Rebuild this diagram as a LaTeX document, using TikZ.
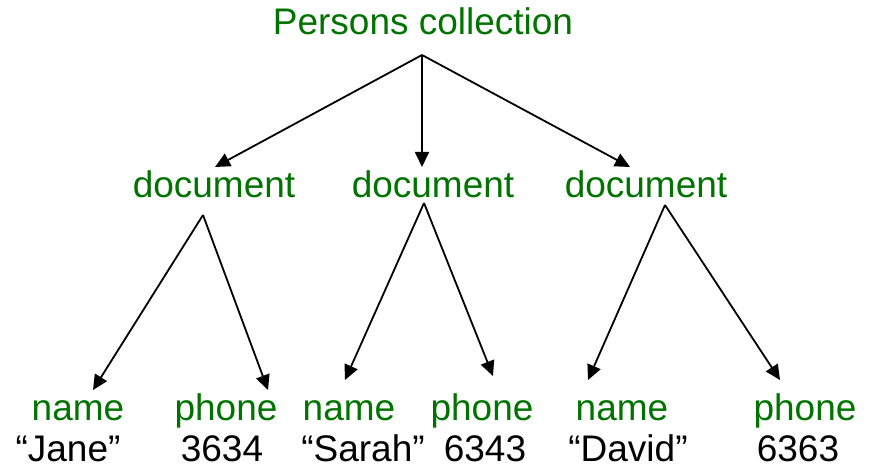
\documentclass[tikz,border=0pt]{standalone}
\usepackage{fontspec}
\setmainfont{Liberation Sans}
\usetikzlibrary{arrows.meta}
\definecolor{docgreen}{RGB}{0,115,0}
\begin{document}
\begin{tikzpicture}[x=1pt,y=-1pt,
  lbl/.style={anchor=base,inner sep=0pt,font=\fontsize{37}{44}\selectfont},
  key/.style={lbl,text=docgreen},
  val/.style={lbl,text=black},
  link/.style={line width=1.8pt,-{Triangle[length=15pt,width=14pt]}}]
\useasboundingbox (0,0) rectangle (873,468);
\node[key] (root) at (423,35) {Persons collection};
\node[key] (d1) at (214,197) {document};
\node[key] (d2) at (433,197) {document};
\node[key] (d3) at (646,197) {document};
\node[key] (n1) at (78,420) {name};
\node[key] (p1) at (226,420) {phone};
\node[key] (n2) at (349,420) {name};
\node[key] (p2) at (482,420) {phone};
\node[key] (n3) at (622,420) {name};
\node[key] (p3) at (805,420) {phone};
\node[val] (v1) at (68,461) {“Jane”};
\node[val] (v2) at (222,461) {3634};
\node[val] (v3) at (363,461) {“Sarah”};
\node[val] (v4) at (485,461) {6343};
\node[val] (v5) at (628,461) {“David”};
\node[val] (v6) at (798,461) {6363};
% connector ends
\coordinate (r0) at (422,55);
\coordinate (t1) at (215,167);
\coordinate (t2) at (422,167);
\coordinate (t3) at (630,167);
\coordinate (a1) at (203,215);
\coordinate (a2) at (424,203);
\coordinate (a3) at (665,205);
\coordinate (tn1) at (93,390);
\coordinate (tp1) at (268,390);
\coordinate (tn2) at (345,380);
\coordinate (tp2) at (493,376);
\coordinate (tn3) at (588,380);
\coordinate (tp3) at (780,380);
\draw[link] (r0) -- (t1);
\draw[link] (r0) -- (t2);
\draw[link] (r0) -- (t3);
\draw[link] (a1) -- (tn1);
\draw[link] (a1) -- (tp1);
\draw[link] (a2) -- (tn2);
\draw[link] (a2) -- (tp2);
\draw[link] (a3) -- (tn3);
\draw[link] (a3) -- (tp3);
\end{tikzpicture}
\end{document}
